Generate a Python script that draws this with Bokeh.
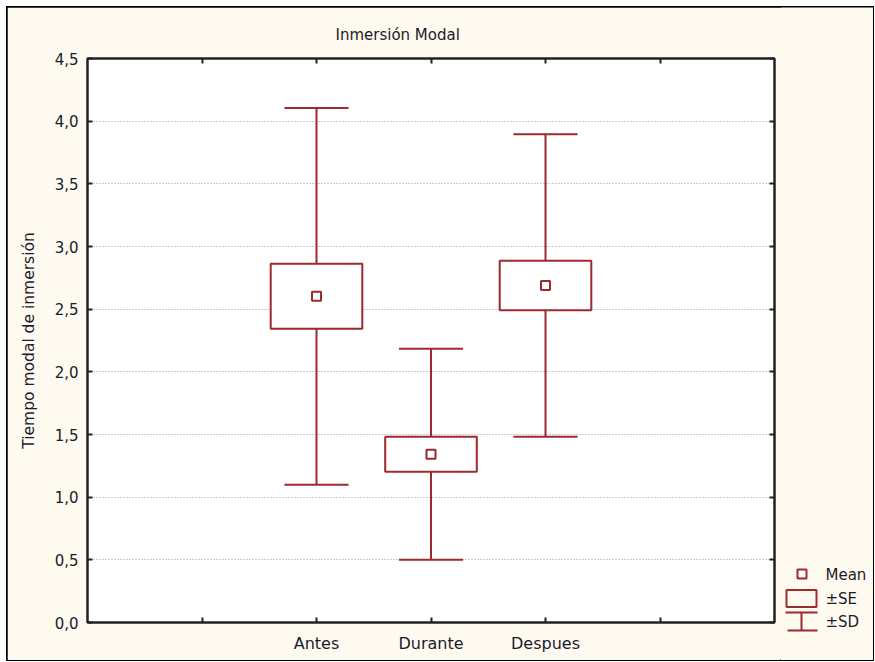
from bokeh.plotting import figure
from bokeh.layouts import row
from bokeh.models import FixedTicker, LinearAxis, Range1d
from bokeh.core.properties import value
from bokeh.embed import file_html
from bokeh.resources import INLINE

# ---- data ----
categories = ["Antes", "Durante", "Despues"]
means = [2.603, 1.343, 2.689]
se = [0.259, 0.140, 0.198]
sd = [1.503, 0.842, 1.207]
y_ticks = [0.0, 0.5, 1.0, 1.5, 2.0, 2.5, 3.0, 3.5, 4.0, 4.5]
y_tick_labels = ["0,0", "0,5", "1,0", "1,5", "2,0", "2,5", "3,0", "3,5", "4,0", "4,5"]
title_text = "Inmersión Modal"
y_label = "Tiempo modal de inmersión"
legend_labels = ["Mean", "±SE", "±SD"]

RED = "#9C2A2E"
CREAM = "#FFFAF0"
FONT = "DejaVu Sans"
TXT = "#1a1a2a"

# page geometry (pixels)
OX, OY = 7, 7            # outer border position
FL, FT, FW, FH = 87, 58, 687, 564
MAIN_W = 780 - OX
LEG_W = 873 - 780
TOT_H = 660 - OY

xs = [i + 2 for i in range(len(categories))]
se_lo = [m - s for m, s in zip(means, se)]
se_hi = [m + s for m, s in zip(means, se)]
sd_lo = [m - s for m, s in zip(means, sd)]
sd_hi = [m + s for m, s in zip(means, sd)]

p = figure(frame_width=FW, frame_height=FH,
           x_range=Range1d(0, 6), y_range=Range1d(0, 4.5),
           output_backend="svg", toolbar_location=None,
           background_fill_color="white", border_fill_color=CREAM,
           min_border_left=FL - OX, min_border_right=MAIN_W - (FL - OX) - FW,
           min_border_top=FT - OY, min_border_bottom=TOT_H - (FT - OY) - FH)
p.frame_align = False

p.title.text = title_text
p.title.align = "left"
p.title.offset = 248
p.title.text_font = FONT
p.title.text_font_size = "15px"
p.title.text_font_style = "normal"
p.title.text_color = TXT
p.title.standoff = 30

p.outline_line_color = "#222222"
p.outline_line_width = 2
p.xgrid.visible = False
p.ygrid.ticker = FixedTicker(ticks=y_ticks[1:-1])
p.ygrid.grid_line_color = "#9A9A9A"
p.ygrid.grid_line_dash = "1 2"
p.ygrid.grid_line_width = 1

# axes
xticks = [1, 2, 3, 4, 5]
xover = {1: "", 5: ""}
for x, c in zip(xs, categories):
    xover[x] = c

def style_axis(ax):
    ax.axis_line_color = "#222222"
    ax.axis_line_width = 2
    ax.major_tick_in = 5
    ax.major_tick_out = 0
    ax.major_tick_line_color = "#222222"
    ax.major_tick_line_width = 2
    ax.minor_tick_line_color = None
    ax.major_label_text_font = FONT
    ax.major_label_text_color = TXT

xa = p.xaxis[0]
xa.ticker = FixedTicker(ticks=xticks)
xa.major_label_overrides = xover
style_axis(xa)
xa.major_label_text_font_size = "16px"
xa.major_label_standoff = 11

ya = p.yaxis[0]
ya.ticker = FixedTicker(ticks=y_ticks)
ya.major_label_overrides = {t: l for t, l in zip(y_ticks, y_tick_labels)}
style_axis(ya)
ya.major_label_text_font_size = "15px"
ya.major_label_standoff = 9
ya.axis_label = y_label
ya.axis_label_text_font = FONT
ya.axis_label_text_font_size = "15.5px"
ya.axis_label_text_font_style = "normal"
ya.axis_label_text_color = TXT
ya.axis_label_standoff = 14

ra = LinearAxis(ticker=FixedTicker(ticks=y_ticks))
style_axis(ra)
ra.major_label_overrides = {t: "" for t in y_ticks}
ra.major_label_standoff = 0
p.add_layout(ra, "right")

ta = LinearAxis(ticker=FixedTicker(ticks=xticks))
style_axis(ta)
ta.major_label_overrides = {t: "" for t in xticks}
ta.major_label_standoff = 0
p.add_layout(ta, "above")

# glyphs
p.segment(x0=xs, y0=se_hi, x1=xs, y1=sd_hi, line_color=RED, line_width=2)
p.segment(x0=xs, y0=sd_lo, x1=xs, y1=se_lo, line_color=RED, line_width=2)
p.segment(x0=[x - 0.28 for x in xs], y0=sd_hi, x1=[x + 0.28 for x in xs], y1=sd_hi,
          line_color=RED, line_width=2)
p.segment(x0=[x - 0.28 for x in xs], y0=sd_lo, x1=[x + 0.28 for x in xs], y1=sd_lo,
          line_color=RED, line_width=2)
p.quad(left=[x - 0.4 for x in xs], right=[x + 0.4 for x in xs], bottom=se_lo, top=se_hi,
       fill_color="white", line_color=RED, line_width=2)
p.scatter(x=xs, y=means, marker="square", size=9, fill_color="white",
          line_color=RED, line_width=2)

# legend panel: its own small canvas, coordinates in page pixels
lf = figure(width=LEG_W, height=TOT_H, x_range=Range1d(780, 873), y_range=Range1d(660, 7),
            x_axis_type=None, y_axis_type=None,
            output_backend="svg", toolbar_location=None,
            background_fill_color=CREAM, border_fill_color=CREAM,
            min_border=0, outline_line_color=None)
lf.frame_align = False
lf.grid.visible = False
lf.scatter(x=[801.5], y=[573.5], marker="square", size=9, fill_color="white",
           line_color=RED, line_width=2)
lf.quad(left=[786], right=[816], top=[589.5], bottom=[606.5],
        fill_color=None, line_color=RED, line_width=2)
lf.segment(x0=[785, 801, 787], y0=[612, 612, 630], x1=[817, 801, 817], y1=[612, 630, 630],
           line_color=RED, line_width=2)
lf.text(x=[825, 825, 825], y=[574, 598, 621], text=legend_labels,
        text_align="left", text_baseline="middle",
        text_font=value(FONT), text_font_size="15px", text_color=TXT)

layout = row(p, lf, spacing=0, margin=(OY, 0, 0, OX),
             styles={"outline": "2px solid black", "outline-offset": "-1px",
                     "background-color": CREAM})

open("out.html", "w").write(file_html(layout, INLINE))
